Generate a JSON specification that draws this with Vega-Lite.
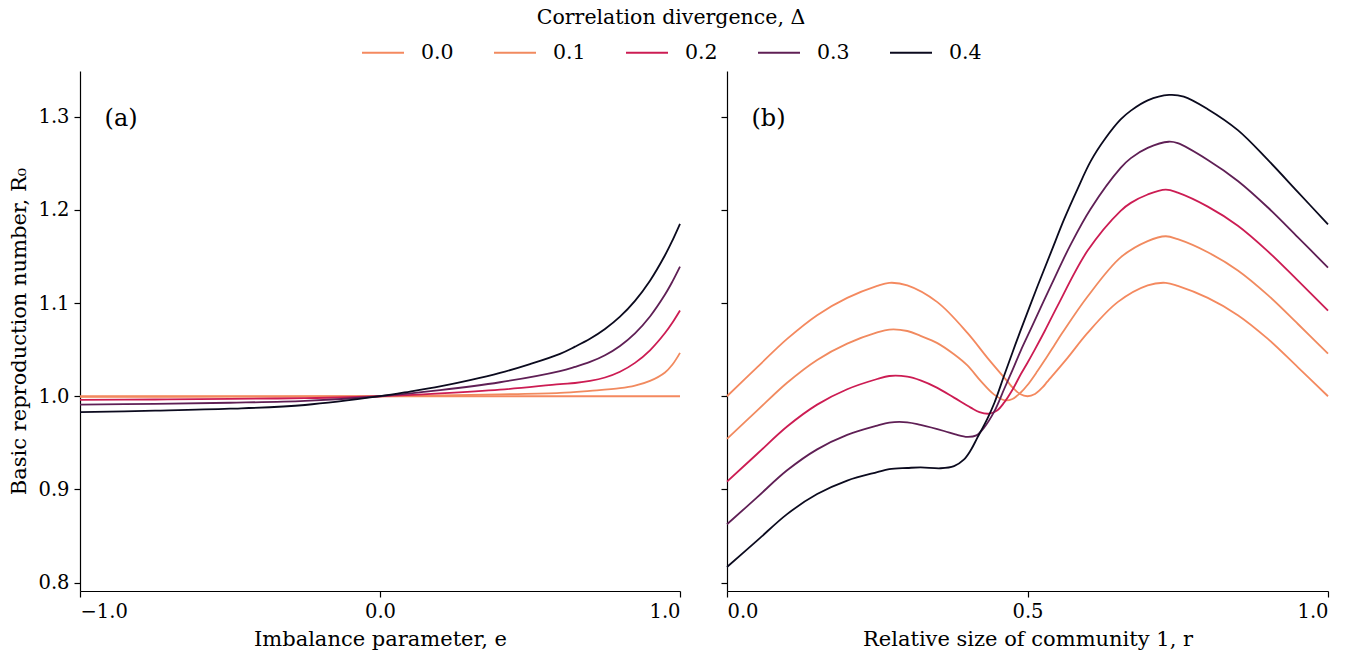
{
  "$schema": "https://vega.github.io/schema/vega-lite/v6.json",
  "padding": {"left": 8, "top": 8, "right": 20, "bottom": 2},
  "background": "white",
  "config": {
    "font": "DejaVu Serif",
    "view": {"stroke": null},
    "text": {"font": "DejaVu Serif"},
    "axis": {
      "domainColor": "#000", "tickColor": "#000", "labelColor": "#000", "titleColor": "#000",
      "labelFont": "DejaVu Serif", "titleFont": "DejaVu Serif",
      "labelFontSize": 19.5, "titleFontSize": 21, "titleFontWeight": "normal",
      "grid": false, "tickSize": 6, "domainWidth": 1.2, "tickWidth": 1.2, "labelPadding": 5
    },
    "legend": {"labelFont": "DejaVu Serif", "titleFont": "DejaVu Serif", "labelColor": "#000", "titleColor": "#000"}
  },
  "datasets": {
    "left": [
      {"d": "0.0", "x": -1, "y": 1.0}, {"d": "0.0", "x": 0, "y": 1.0}, {"d": "0.0", "x": 1, "y": 1.0},
      {"d": "0.1", "x": -1, "y": 0.9993}, {"d": "0.1", "x": -0.5, "y": 0.9996}, {"d": "0.1", "x": 0, "y": 1.0}, {"d": "0.1", "x": 0.2, "y": 1.0008}, {"d": "0.1", "x": 0.4, "y": 1.002}, {"d": "0.1", "x": 0.6, "y": 1.0035}, {"d": "0.1", "x": 0.7, "y": 1.0058}, {"d": "0.1", "x": 0.8, "y": 1.0086}, {"d": "0.1", "x": 0.85, "y": 1.0113}, {"d": "0.1", "x": 0.9, "y": 1.0164}, {"d": "0.1", "x": 0.95, "y": 1.0255}, {"d": "0.1", "x": 0.975, "y": 1.034}, {"d": "0.1", "x": 1, "y": 1.0465},
      {"d": "0.2", "x": -1, "y": 0.996}, {"d": "0.2", "x": -0.75, "y": 0.9965}, {"d": "0.2", "x": -0.5, "y": 0.9971}, {"d": "0.2", "x": -0.25, "y": 0.998}, {"d": "0.2", "x": 0, "y": 1.0}, {"d": "0.2", "x": 0.2, "y": 1.003}, {"d": "0.2", "x": 0.4, "y": 1.007}, {"d": "0.2", "x": 0.6, "y": 1.013}, {"d": "0.2", "x": 0.65, "y": 1.0142}, {"d": "0.2", "x": 0.7, "y": 1.0164}, {"d": "0.2", "x": 0.75, "y": 1.0201}, {"d": "0.2", "x": 0.8, "y": 1.0263}, {"d": "0.2", "x": 0.85, "y": 1.0358}, {"d": "0.2", "x": 0.9, "y": 1.0493}, {"d": "0.2", "x": 0.95, "y": 1.0678}, {"d": "0.2", "x": 0.975, "y": 1.0791}, {"d": "0.2", "x": 1, "y": 1.092},
      {"d": "0.3", "x": -1, "y": 0.991}, {"d": "0.3", "x": -0.75, "y": 0.9918}, {"d": "0.3", "x": -0.5, "y": 0.993}, {"d": "0.3", "x": -0.25, "y": 0.995}, {"d": "0.3", "x": 0, "y": 1.0}, {"d": "0.3", "x": 0.2, "y": 1.0065}, {"d": "0.3", "x": 0.4, "y": 1.015}, {"d": "0.3", "x": 0.6, "y": 1.027}, {"d": "0.3", "x": 0.65, "y": 1.0315}, {"d": "0.3", "x": 0.7, "y": 1.0368}, {"d": "0.3", "x": 0.75, "y": 1.044}, {"d": "0.3", "x": 0.8, "y": 1.054}, {"d": "0.3", "x": 0.85, "y": 1.0675}, {"d": "0.3", "x": 0.9, "y": 1.0856}, {"d": "0.3", "x": 0.95, "y": 1.1091}, {"d": "0.3", "x": 0.975, "y": 1.1232}, {"d": "0.3", "x": 1, "y": 1.139},
      {"d": "0.4", "x": -1, "y": 0.983}, {"d": "0.4", "x": -0.75, "y": 0.9845}, {"d": "0.4", "x": -0.5, "y": 0.9866}, {"d": "0.4", "x": -0.25, "y": 0.9906}, {"d": "0.4", "x": 0, "y": 1.0}, {"d": "0.4", "x": 0.1, "y": 1.005}, {"d": "0.4", "x": 0.2, "y": 1.0105}, {"d": "0.4", "x": 0.3, "y": 1.0172}, {"d": "0.4", "x": 0.4, "y": 1.025}, {"d": "0.4", "x": 0.5, "y": 1.0345}, {"d": "0.4", "x": 0.6, "y": 1.0455}, {"d": "0.4", "x": 0.65, "y": 1.0532}, {"d": "0.4", "x": 0.7, "y": 1.0617}, {"d": "0.4", "x": 0.75, "y": 1.0722}, {"d": "0.4", "x": 0.8, "y": 1.0854}, {"d": "0.4", "x": 0.85, "y": 1.1024}, {"d": "0.4", "x": 0.9, "y": 1.124}, {"d": "0.4", "x": 0.95, "y": 1.1513}, {"d": "0.4", "x": 0.975, "y": 1.1673}, {"d": "0.4", "x": 1, "y": 1.185}
    ],
    "right": [
      {"d": "0.0", "x": 0, "y": 1.0}, {"d": "0.0", "x": 0.05, "y": 1.031}, {"d": "0.0", "x": 0.1, "y": 1.0615}, {"d": "0.0", "x": 0.15, "y": 1.087}, {"d": "0.0", "x": 0.2, "y": 1.1055}, {"d": "0.0", "x": 0.25, "y": 1.1185}, {"d": "0.0", "x": 0.27, "y": 1.1217}, {"d": "0.0", "x": 0.3, "y": 1.119}, {"d": "0.0", "x": 0.35, "y": 1.101}, {"d": "0.0", "x": 0.4, "y": 1.068}, {"d": "0.0", "x": 0.433, "y": 1.0415}, {"d": "0.0", "x": 0.467, "y": 1.0156}, {"d": "0.0", "x": 0.475, "y": 1.0095}, {"d": "0.0", "x": 0.4875, "y": 1.0024}, {"d": "0.0", "x": 0.5, "y": 1.0}, {"d": "0.0", "x": 0.5125, "y": 1.0024}, {"d": "0.0", "x": 0.525, "y": 1.0095}, {"d": "0.0", "x": 0.533, "y": 1.0156}, {"d": "0.0", "x": 0.567, "y": 1.0415}, {"d": "0.0", "x": 0.6, "y": 1.068}, {"d": "0.0", "x": 0.65, "y": 1.101}, {"d": "0.0", "x": 0.7, "y": 1.119}, {"d": "0.0", "x": 0.73, "y": 1.1217}, {"d": "0.0", "x": 0.75, "y": 1.1185}, {"d": "0.0", "x": 0.8, "y": 1.1055}, {"d": "0.0", "x": 0.85, "y": 1.087}, {"d": "0.0", "x": 0.9, "y": 1.0615}, {"d": "0.0", "x": 0.95, "y": 1.031}, {"d": "0.0", "x": 1, "y": 1.0},
      {"d": "0.1", "x": 0, "y": 0.9542}, {"d": "0.1", "x": 0.05, "y": 0.9845}, {"d": "0.1", "x": 0.1, "y": 1.0145}, {"d": "0.1", "x": 0.15, "y": 1.039}, {"d": "0.1", "x": 0.2, "y": 1.0565}, {"d": "0.1", "x": 0.25, "y": 1.0685}, {"d": "0.1", "x": 0.27, "y": 1.0715}, {"d": "0.1", "x": 0.3, "y": 1.07}, {"d": "0.1", "x": 0.322, "y": 1.0648}, {"d": "0.1", "x": 0.35, "y": 1.057}, {"d": "0.1", "x": 0.3777, "y": 1.045}, {"d": "0.1", "x": 0.4, "y": 1.033}, {"d": "0.1", "x": 0.422, "y": 1.0164}, {"d": "0.1", "x": 0.444, "y": 1.002}, {"d": "0.1", "x": 0.4625, "y": 0.9956}, {"d": "0.1", "x": 0.475, "y": 0.997}, {"d": "0.1", "x": 0.4888, "y": 1.004}, {"d": "0.1", "x": 0.5, "y": 1.012}, {"d": "0.1", "x": 0.5166, "y": 1.027}, {"d": "0.1", "x": 0.53, "y": 1.04}, {"d": "0.1", "x": 0.544, "y": 1.054}, {"d": "0.1", "x": 0.558, "y": 1.068}, {"d": "0.1", "x": 0.6, "y": 1.107}, {"d": "0.1", "x": 0.655, "y": 1.149}, {"d": "0.1", "x": 0.7, "y": 1.1665}, {"d": "0.1", "x": 0.73, "y": 1.1717}, {"d": "0.1", "x": 0.75, "y": 1.1685}, {"d": "0.1", "x": 0.8, "y": 1.1545}, {"d": "0.1", "x": 0.85, "y": 1.135}, {"d": "0.1", "x": 0.9, "y": 1.1085}, {"d": "0.1", "x": 0.95, "y": 1.0775}, {"d": "0.1", "x": 1, "y": 1.0458},
      {"d": "0.2", "x": 0, "y": 0.9084}, {"d": "0.2", "x": 0.05, "y": 0.938}, {"d": "0.2", "x": 0.1, "y": 0.9675}, {"d": "0.2", "x": 0.15, "y": 0.991}, {"d": "0.2", "x": 0.2, "y": 1.0075}, {"d": "0.2", "x": 0.25, "y": 1.0185}, {"d": "0.2", "x": 0.27, "y": 1.0217}, {"d": "0.2", "x": 0.3, "y": 1.021}, {"d": "0.2", "x": 0.322, "y": 1.017}, {"d": "0.2", "x": 0.35, "y": 1.009}, {"d": "0.2", "x": 0.3777, "y": 0.9985}, {"d": "0.2", "x": 0.4055, "y": 0.9878}, {"d": "0.2", "x": 0.42, "y": 0.983}, {"d": "0.2", "x": 0.436, "y": 0.9813}, {"d": "0.2", "x": 0.45, "y": 0.985}, {"d": "0.2", "x": 0.461, "y": 0.9931}, {"d": "0.2", "x": 0.475, "y": 1.007}, {"d": "0.2", "x": 0.4888, "y": 1.0236}, {"d": "0.2", "x": 0.5, "y": 1.036}, {"d": "0.2", "x": 0.511, "y": 1.0487}, {"d": "0.2", "x": 0.5287, "y": 1.07}, {"d": "0.2", "x": 0.55, "y": 1.097}, {"d": "0.2", "x": 0.5998, "y": 1.156}, {"d": "0.2", "x": 0.655, "y": 1.199}, {"d": "0.2", "x": 0.672, "y": 1.2075}, {"d": "0.2", "x": 0.7, "y": 1.2165}, {"d": "0.2", "x": 0.73, "y": 1.2217}, {"d": "0.2", "x": 0.75, "y": 1.2185}, {"d": "0.2", "x": 0.8, "y": 1.2035}, {"d": "0.2", "x": 0.85, "y": 1.183}, {"d": "0.2", "x": 0.9, "y": 1.1555}, {"d": "0.2", "x": 0.95, "y": 1.124}, {"d": "0.2", "x": 1, "y": 1.0918},
      {"d": "0.3", "x": 0, "y": 0.8626}, {"d": "0.3", "x": 0.05, "y": 0.8915}, {"d": "0.3", "x": 0.1, "y": 0.9205}, {"d": "0.3", "x": 0.15, "y": 0.943}, {"d": "0.3", "x": 0.2, "y": 0.9585}, {"d": "0.3", "x": 0.25, "y": 0.9685}, {"d": "0.3", "x": 0.27, "y": 0.9717}, {"d": "0.3", "x": 0.3, "y": 0.972}, {"d": "0.3", "x": 0.322, "y": 0.9692}, {"d": "0.3", "x": 0.361, "y": 0.9627}, {"d": "0.3", "x": 0.38, "y": 0.959}, {"d": "0.3", "x": 0.4, "y": 0.9563}, {"d": "0.3", "x": 0.415, "y": 0.958}, {"d": "0.3", "x": 0.4277, "y": 0.9663}, {"d": "0.3", "x": 0.445, "y": 0.984}, {"d": "0.3", "x": 0.461, "y": 1.0075}, {"d": "0.3", "x": 0.475, "y": 1.028}, {"d": "0.3", "x": 0.4888, "y": 1.049}, {"d": "0.3", "x": 0.5054, "y": 1.072}, {"d": "0.3", "x": 0.54, "y": 1.12}, {"d": "0.3", "x": 0.572, "y": 1.163}, {"d": "0.3", "x": 0.605, "y": 1.201}, {"d": "0.3", "x": 0.655, "y": 1.245}, {"d": "0.3", "x": 0.672, "y": 1.2555}, {"d": "0.3", "x": 0.7, "y": 1.2665}, {"d": "0.3", "x": 0.735, "y": 1.2731}, {"d": "0.3", "x": 0.75, "y": 1.2715}, {"d": "0.3", "x": 0.8, "y": 1.2535}, {"d": "0.3", "x": 0.85, "y": 1.231}, {"d": "0.3", "x": 0.9, "y": 1.2025}, {"d": "0.3", "x": 0.95, "y": 1.1705}, {"d": "0.3", "x": 1, "y": 1.138},
      {"d": "0.4", "x": 0, "y": 0.8168}, {"d": "0.4", "x": 0.05, "y": 0.845}, {"d": "0.4", "x": 0.1, "y": 0.8735}, {"d": "0.4", "x": 0.15, "y": 0.895}, {"d": "0.4", "x": 0.2, "y": 0.9095}, {"d": "0.4", "x": 0.25, "y": 0.9185}, {"d": "0.4", "x": 0.27, "y": 0.9217}, {"d": "0.4", "x": 0.3, "y": 0.923}, {"d": "0.4", "x": 0.322, "y": 0.9237}, {"d": "0.4", "x": 0.3555, "y": 0.9227}, {"d": "0.4", "x": 0.3777, "y": 0.925}, {"d": "0.4", "x": 0.394, "y": 0.932}, {"d": "0.4", "x": 0.405, "y": 0.9415}, {"d": "0.4", "x": 0.4166, "y": 0.9555}, {"d": "0.4", "x": 0.4333, "y": 0.976}, {"d": "0.4", "x": 0.445, "y": 0.993}, {"d": "0.4", "x": 0.461, "y": 1.022}, {"d": "0.4", "x": 0.475, "y": 1.047}, {"d": "0.4", "x": 0.4876, "y": 1.069}, {"d": "0.4", "x": 0.5166, "y": 1.118}, {"d": "0.4", "x": 0.54, "y": 1.156}, {"d": "0.4", "x": 0.561, "y": 1.19}, {"d": "0.4", "x": 0.583, "y": 1.222}, {"d": "0.4", "x": 0.605, "y": 1.252}, {"d": "0.4", "x": 0.63, "y": 1.277}, {"d": "0.4", "x": 0.655, "y": 1.297}, {"d": "0.4", "x": 0.672, "y": 1.3065}, {"d": "0.4", "x": 0.7, "y": 1.3175}, {"d": "0.4", "x": 0.7357, "y": 1.3233}, {"d": "0.4", "x": 0.76, "y": 1.3215}, {"d": "0.4", "x": 0.8, "y": 1.308}, {"d": "0.4", "x": 0.85, "y": 1.2855}, {"d": "0.4", "x": 0.9, "y": 1.2535}, {"d": "0.4", "x": 0.95, "y": 1.219}, {"d": "0.4", "x": 1, "y": 1.1845}
    ]
  },
  "spacing": 36,
  "resolve": {"scale": {"color": "shared"}},
  "hconcat": [
    {
      "width": 600, "height": 520,
      "layer": [
        {
          "data": {"name": "left"},
          "mark": {"type": "line", "strokeWidth": 1.8, "interpolate": "catmull-rom"},
          "encoding": {
            "x": {"field": "x", "type": "quantitative", "scale": {"domain": [-1, 1], "nice": false}, "axis": {"values": [-1, 0, 1], "format": ".1f", "title": "Imbalance parameter, e", "titlePadding": 8, "labelFont": "DejaVu Serif", "titleFont": "DejaVu Serif"}},
            "y": {"field": "y", "type": "quantitative", "scale": {"domain": [0.791, 1.349], "nice": false, "zero": false}, "axis": {"values": [0.8, 0.9, 1.0, 1.1, 1.2, 1.3], "format": ".1f", "title": "Basic reproduction number, R₀", "titlePadding": 8, "labelFont": "DejaVu Serif", "titleFont": "DejaVu Serif"}},
            "color": {"field": "d", "type": "nominal", "scale": {"domain": ["0.0", "0.1", "0.2", "0.3", "0.4"], "range": ["#f4895f", "#f18a5f", "#cc1c53", "#5f1f55", "#0b0a1e"]},
              "legend": {"orient": "none", "legendX": 281, "legendY": -63, "direction": "horizontal", "title": "Correlation divergence, Δ", "titleAnchor": "middle", "titleLimit": 800, "titleFont": "DejaVu Serif", "labelFont": "DejaVu Serif", "titleFontSize": 20.5, "titleFontWeight": "normal", "labelFontSize": 20.5, "symbolType": "stroke", "symbolSize": 1764, "symbolStrokeWidth": 2, "labelOffset": 16, "columnPadding": 36, "titlePadding": 2}},
            "order": {"field": "d"}
          }
        },
        {
          "data": {"values": [{"label": "(a)"}]},
          "mark": {"type": "text", "fontSize": 24, "font": "DejaVu Serif", "align": "center", "baseline": "middle", "color": "#000"},
          "encoding": {"x": {"datum": -0.863}, "y": {"datum": 1.298}, "text": {"field": "label"}}
        }
      ]
    },
    {
      "width": 601, "height": 520,
      "layer": [
        {
          "data": {"name": "right"},
          "mark": {"type": "line", "strokeWidth": 1.8, "interpolate": "catmull-rom"},
          "encoding": {
            "x": {"field": "x", "type": "quantitative", "scale": {"domain": [0, 1], "nice": false}, "axis": {"values": [0, 0.5, 1], "format": ".1f", "title": "Relative size of community 1, r", "titlePadding": 8, "labelFont": "DejaVu Serif", "titleFont": "DejaVu Serif"}},
            "y": {"field": "y", "type": "quantitative", "scale": {"domain": [0.791, 1.349], "nice": false, "zero": false}, "axis": {"values": [0.8, 0.9, 1.0, 1.1, 1.2, 1.3], "labels": false, "title": null}},
            "color": {"field": "d", "type": "nominal"},
            "order": {"field": "d"}
          }
        },
        {
          "data": {"values": [{"label": "(b)"}]},
          "mark": {"type": "text", "fontSize": 24, "font": "DejaVu Serif", "align": "center", "baseline": "middle", "color": "#000"},
          "encoding": {"x": {"datum": 0.069}, "y": {"datum": 1.298}, "text": {"field": "label"}}
        }
      ]
    }
  ]
}
